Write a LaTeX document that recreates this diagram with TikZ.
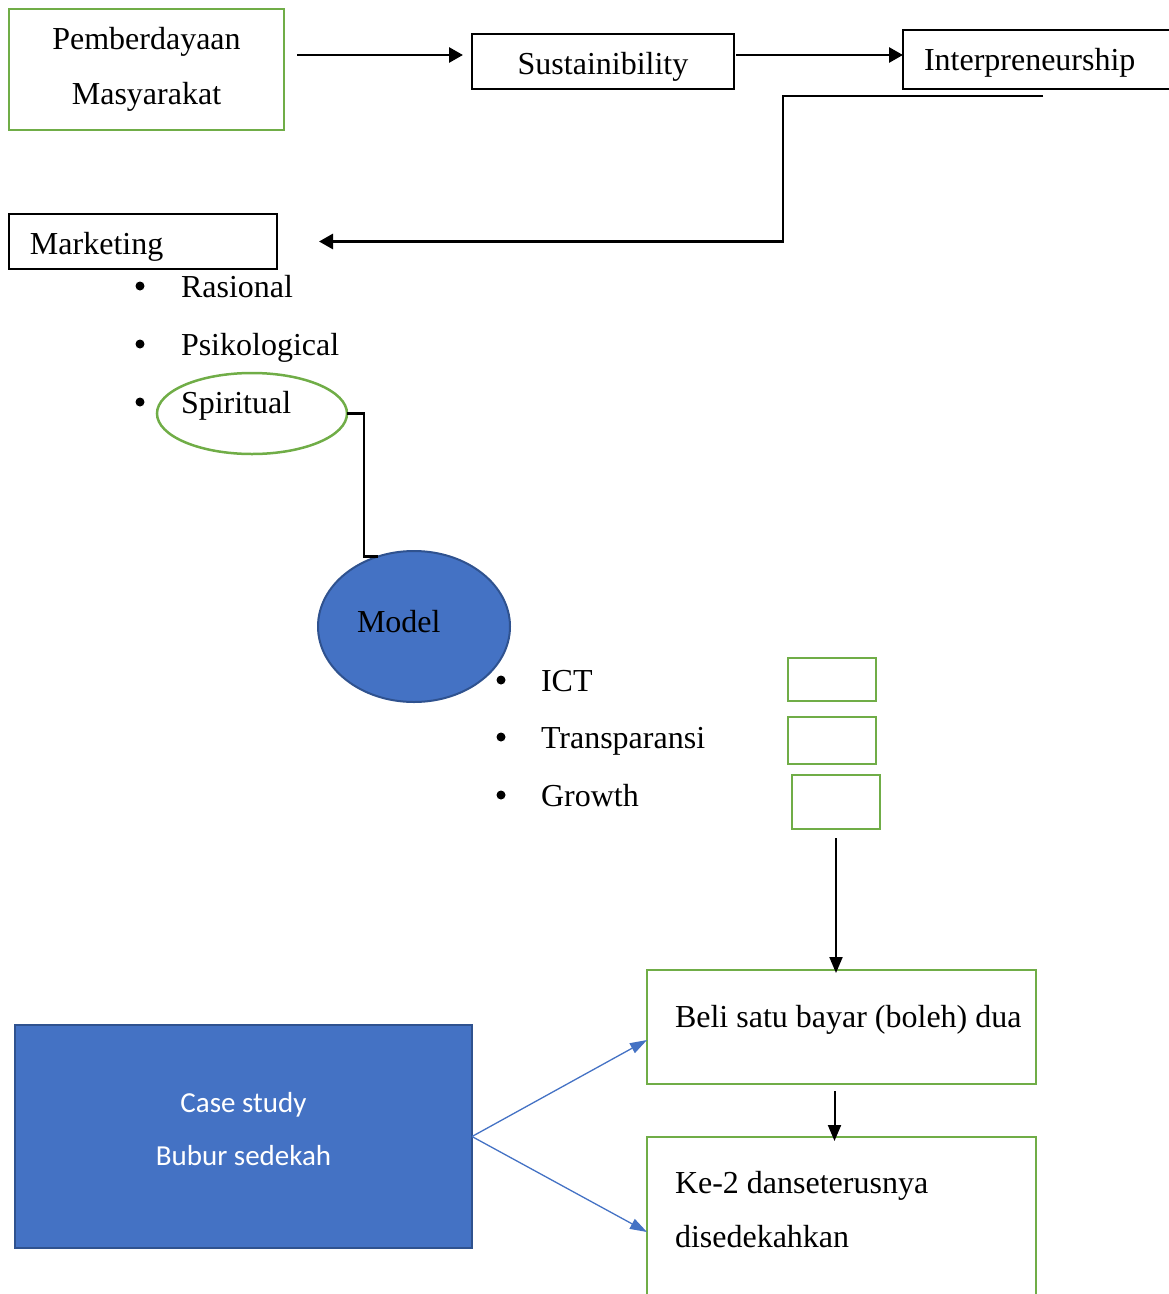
\documentclass[tikz,border=0pt]{standalone}
\usepackage{fontspec}
\setmainfont{Liberation Serif}
\newfontfamily\calibrifont{Carlito}
\usepackage{xcolor}
\definecolor{boxGreen}{HTML}{70AD47}
\definecolor{diagramBlue}{HTML}{4472C4}
\definecolor{blueEdge}{HTML}{2F528F}
\usetikzlibrary{%
    shapes,
    shapes.geometric,
    arrows.meta,
    positioning,
    calc
}

\begin{document}
\begin{tikzpicture}[x=1pt, y=-1pt,
                every node/.style={font=\fontsize{32}{55}\selectfont, outer sep=0pt},
                greenbox/.style={rectangle, draw=boxGreen, line width=2.6pt, inner sep=0pt, align=center},
                blackbox/.style={rectangle, draw=black, line width=2.6pt, inner sep=0pt, align=center},
                casebox/.style={rectangle, draw=blueEdge, fill=diagramBlue, line width=2.5pt},
                casetext/.style={anchor=base, inner sep=0pt, text=white, font=\calibrifont\fontsize{29}{53}\selectfont},
                modelnode/.style={ellipse, draw=blueEdge, fill=diagramBlue, line width=2pt, minimum width=192pt, minimum height=151pt},
                ring/.style={ellipse, draw=boxGreen, line width=2.5pt, minimum width=190pt, minimum height=81pt},
                word/.style={anchor=base west, inner sep=0pt},
                dot/.style={circle, fill=black, inner sep=0pt, minimum size=9pt},
                flow/.style={draw, line width=2.8pt, -{Triangle[length=14pt, width=15pt]}},
                thin_flow/.style={draw, line width=2pt, -{Triangle[length=16pt, width=13pt]}},
                blue_flow/.style={draw=diagramBlue, line width=1.3pt, -{Triangle[length=17pt, width=11pt]}},
                link/.style={draw, line width=2.8pt}
            ]

            \useasboundingbox (0,0) rectangle (1169,1294);
            \clip (0,0) rectangle (1169,1294);

            \node (pemb) [greenbox, minimum width=275pt, minimum height=121pt] at (146.5,69.5) {Pemberdayaan\\Masyarakat};
            \node (sust) [blackbox, minimum width=262pt, minimum height=55pt] at (603,61.5) {};
            \node (susttext) [word, anchor=base] at (603,74) {Sustainibility};
            \node (interp) [blackbox, minimum width=300pt, minimum height=59pt, anchor=north west] at (903,30) {};
            \node (interptext) [word] at (924,70) {Interpreneurship};

            \node (mark) [blackbox, minimum width=268pt, minimum height=55pt] at (143,241.5) {};
            \node (marktext) [word] at (30,254) {Marketing};

            \node (dot1) [dot] at (140,286) {};
            \node (rasional) [word] at (181,297) {Rasional};
            \node (dot2) [dot] at (140,344) {};
            \node (psiko) [word] at (181,355) {Psikological};
            \node (dot3) [dot] at (140,402) {};
            \node (spir) [ring] at (252,413.5) {};
            \node (spirtext) [word] at (181,413) {Spiritual};

            \node (model) [modelnode] at (414,626.5) {};
            \node (modeltext) [word] at (357,632) {Model};

            \node (dot4) [dot] at (501,680) {};
            \node (ict) [word] at (541,691) {ICT};
            \node (dot5) [dot] at (501,737) {};
            \node (trans) [word] at (541,748) {Transparansi};
            \node (dot6) [dot] at (501,795) {};
            \node (growth) [word] at (541,806) {Growth};

            \node (g1) [greenbox, minimum width=88pt, minimum height=43pt] at (832,679.5) {};
            \node (g2) [greenbox, minimum width=88pt, minimum height=47pt] at (832,740.5) {};
            \node (g3) [greenbox, minimum width=88pt, minimum height=54pt] at (836,802) {};

            \node (beli) [greenbox, minimum width=389pt, minimum height=114pt] at (841.5,1027) {};
            \node (belitext) [word] at (675,1027) {Beli satu bayar (boleh) dua};
            \node (ke2) [greenbox, minimum width=389pt, minimum height=190pt, anchor=north] at (841.5,1137) {};
            \node (ke2text) [word] at (675,1193) {Ke-2 danseterusnya};
            \node (ke2text2) [word] at (675,1247) {disedekahkan};

            \node (case) [casebox, minimum width=457pt, minimum height=223pt] at (243.5,1136.5) {};
            \node (casetext1) [casetext] at (243.5,1112) {Case study};
            \node (casetext2) [casetext] at (243.5,1165) {Bubur sedekah};

            \coordinate (start1) at ([xshift=13pt, yshift=14.5pt]pemb.east);
            \coordinate (start2) at ([xshift=2pt, yshift=6.5pt]sust.east);
            \coordinate (turn) at (1043,96);
            \coordinate (bend) at (783,96);

            \draw[flow] (start1) -- ([xshift=-9pt]start1 -| sust.west);
            \draw[flow] (start2) -- (start2 -| interp.west);
            \draw[flow] (turn) -- (bend) |- ([xshift=42pt]mark.east);
            \draw[link] (spir.east) -- ++(17,0) |- (model.117);
            \draw[thin_flow] ([yshift=-9pt]g3.south) -- ([yshift=-3pt]g3.south |- beli.north);
            \draw[thin_flow] ([xshift=-7pt, yshift=-7pt]beli.south) -- ([xshift=-7pt, yshift=-4pt]ke2.north);
            \draw[blue_flow] (case.east) -- ([yshift=-13pt]beli.west);
            \draw[blue_flow] (case.east) -- (ke2.west);
        \end{tikzpicture}
\end{document}
